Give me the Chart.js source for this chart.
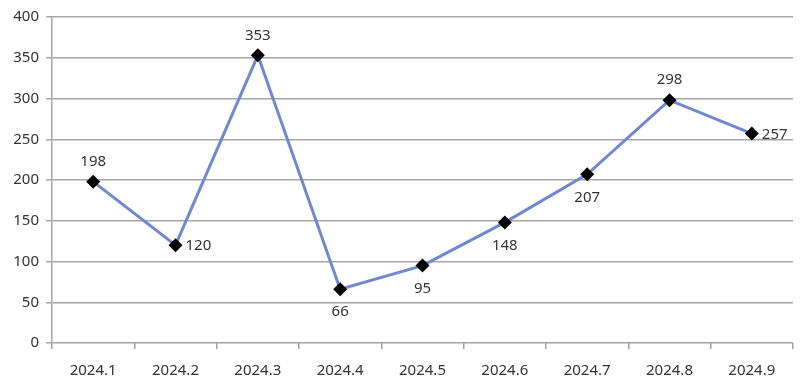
<!DOCTYPE html>
<html><head><meta charset="utf-8">
<script src="https://cdn.jsdelivr.net/npm/chart.js@4"></script>
<style>html,body{margin:0;padding:0;background:#fff}#wrap{width:800px;height:388px}</style>
</head><body><div id="wrap"><canvas id="c"></canvas></div>
<script>
const categories = ["2024.1","2024.2","2024.3","2024.4","2024.5","2024.6","2024.7","2024.8","2024.9"];
const values = [198,120,353,66,95,148,207,298,257];
const labelPos = ["top","right","top","bottom","bottom","bottom","bottom","top","right"];
const yTicks = [0,50,100,150,200,250,300,350,400];

const labelPlugin = {
  id: 'valLabels',
  afterDatasetsDraw(chart){
    const ctx = chart.ctx;
    const meta = chart.getDatasetMeta(0);
    ctx.save();
    ctx.font = '15px "Noto Sans", sans-serif';
    ctx.fillStyle = '#333';
    meta.data.forEach((pt,i)=>{
      const v = String(values[i]);
      const p = labelPos[i];
      if(p==='top'){ctx.textAlign='center';ctx.textBaseline='middle';ctx.fillText(v,pt.x,pt.y-20);}
      else if(p==='bottom'){ctx.textAlign='center';ctx.textBaseline='middle';ctx.fillText(v,pt.x,pt.y+23);}
      else {ctx.textAlign='left';ctx.textBaseline='middle';ctx.fillText(v,pt.x+10,pt.y+1);}
    });
    ctx.restore();
  }
};

new Chart(document.getElementById('c'),{
  type:'line',
  data:{labels:categories,datasets:[{
    data:values,
    borderColor:'#6f88cf',
    borderWidth:3,
    pointStyle:'rectRot',
    pointRadius:7,
    pointHoverRadius:7,
    pointBackgroundColor:'#000',
    pointBorderColor:'#000',
    pointBorderWidth:0,
    tension:0
  }]},
  options:{
    responsive:true,maintainAspectRatio:false,animation:false,
    layout:{padding:{top:17,right:5,left:0,bottom:0}},
    plugins:{legend:{display:false},tooltip:{enabled:false}},
    scales:{
      x:{
        offset:true,
        grid:{display:true,drawOnChartArea:false,drawTicks:true,tickLength:6,color:'#a0a0a0',lineWidth:1.5,offset:true},
        border:{display:false},
        ticks:{color:'#333',font:{size:15,family:'"Noto Sans", sans-serif'},padding:13,maxRotation:0},
        afterFit(s){s.height=45;}
      },
      y:{
        min:0,max:400,
        afterBuildTicks(s){s.ticks=yTicks.map(v=>({value:v}));},
        grid:{color:'#a6a6a6',lineWidth:1.5,tickLength:6},
        border:{display:true,color:'#a6a6a6',width:1.5},
        ticks:{color:'#333',font:{size:15,family:'"Noto Sans", sans-serif'},padding:7},
        afterFit(s){s.width=52;}
      }
    }
  },
  plugins:[labelPlugin]
});
</script></body></html>
